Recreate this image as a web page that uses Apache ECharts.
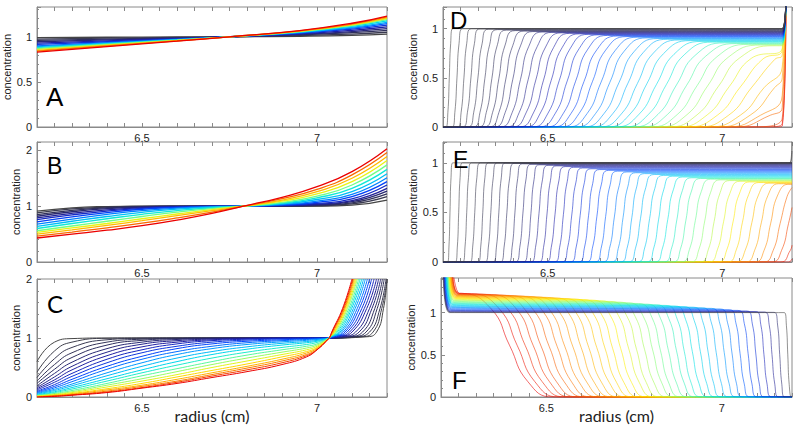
<!DOCTYPE html>
<html>
<head>
<meta charset="utf-8">
<title>Concentration profiles</title>
<script src="https://cdn.jsdelivr.net/npm/echarts@6/dist/echarts.min.js"></script>
<style>
  html, body { margin: 0; padding: 0; background: #fff; }
  #chart { width: 800px; height: 430px; }
</style>
</head>
<body>
<div id="chart"></div>
<script>
// ---- panel A: shared radii, one row of concentrations per scan
const aRadius = [6.2, 6.4, 6.6, 6.75, 6.95, 7.1, 7.2];
const aConc = [
  [0.99, 0.995, 0.998, 1, 1.005, 1.015, 1.03],
  [0.975, 0.984, 0.993, 1, 1.012, 1.03, 1.05],
  [0.96, 0.974, 0.988, 1, 1.02, 1.045, 1.07],
  [0.945, 0.965, 0.984, 1, 1.027, 1.058, 1.09],
  [0.93, 0.955, 0.98, 1, 1.033, 1.072, 1.11],
  [0.915, 0.945, 0.975, 1, 1.039, 1.085, 1.13],
  [0.90, 0.936, 0.971, 1, 1.044, 1.095, 1.145],
  [0.89, 0.929, 0.968, 1, 1.048, 1.105, 1.16],
  [0.88, 0.923, 0.965, 1, 1.053, 1.115, 1.175],
  [0.87, 0.917, 0.962, 1, 1.057, 1.125, 1.19],
  [0.86, 0.91, 0.959, 1, 1.06, 1.13, 1.2],
  [0.85, 0.904, 0.956, 1, 1.063, 1.137, 1.21],
  [0.84, 0.898, 0.954, 1, 1.066, 1.143, 1.22],
  [0.83, 0.891, 0.951, 1, 1.069, 1.15, 1.23]
];

// ---- panel B
const bRadius = [6.2, 6.3, 6.4, 6.5, 6.6, 6.7, 6.79, 6.9, 7.0, 7.1, 7.2];
const bConc = [
  [0.91, 0.97, 0.993, 1, 1, 1, 1, 1, 1.002, 1.02, 1.11],
  [0.88, 0.95, 0.985, 0.997, 1, 1, 1, 1, 1.008, 1.04, 1.17],
  [0.85, 0.925, 0.972, 0.993, 0.999, 1, 1, 1.002, 1.015, 1.06, 1.22],
  [0.82, 0.90, 0.955, 0.985, 0.997, 1, 1, 1.005, 1.025, 1.08, 1.27],
  [0.79, 0.873, 0.935, 0.975, 0.993, 0.999, 1, 1.01, 1.035, 1.10, 1.32],
  [0.76, 0.845, 0.913, 0.962, 0.987, 0.998, 1, 1.015, 1.05, 1.13, 1.38],
  [0.72, 0.81, 0.885, 0.945, 0.978, 0.995, 1, 1.022, 1.07, 1.17, 1.44],
  [0.68, 0.77, 0.852, 0.92, 0.965, 0.99, 1, 1.03, 1.09, 1.21, 1.51],
  [0.64, 0.73, 0.815, 0.89, 0.947, 0.983, 1, 1.04, 1.12, 1.26, 1.58],
  [0.60, 0.69, 0.775, 0.855, 0.922, 0.972, 1, 1.055, 1.15, 1.32, 1.66],
  [0.56, 0.645, 0.73, 0.815, 0.893, 0.957, 1, 1.07, 1.18, 1.38, 1.74],
  [0.53, 0.61, 0.69, 0.775, 0.86, 0.94, 1, 1.09, 1.22, 1.44, 1.82],
  [0.50, 0.575, 0.655, 0.74, 0.83, 0.92, 1, 1.11, 1.26, 1.50, 1.89],
  [0.465, 0.537, 0.612, 0.695, 0.79, 0.895, 1, 1.135, 1.30, 1.56, 1.96],
  [0.43, 0.50, 0.57, 0.65, 0.75, 0.87, 1, 1.16, 1.35, 1.62, 2.03]
];

// ---- panel C: left part on shared radii, then radius where each scan passes the rise levels
const cRadius = [6.2, 6.25, 6.3, 6.4, 6.5, 6.6, 6.7, 6.8, 6.9, 6.97, 7.0, 7.035];
const cConc = [
  [0.60, 0.93, 0.99, 1, 1, 1, 1, 1, 1, 1, 1, 1],
  [0.42, 0.78, 0.93, 0.995, 1, 1, 1, 1, 1, 1, 1, 1],
  [0.33, 0.65, 0.84, 0.97, 0.995, 1, 1, 1, 1, 1, 1, 1],
  [0.27, 0.55, 0.75, 0.93, 0.98, 0.995, 1, 1, 1, 1, 1, 1],
  [0.23, 0.47, 0.67, 0.88, 0.96, 0.988, 0.997, 1, 1, 1, 1, 1],
  [0.19, 0.40, 0.59, 0.82, 0.93, 0.975, 0.992, 0.998, 1, 1, 1, 1],
  [0.16, 0.34, 0.52, 0.76, 0.895, 0.955, 0.983, 0.995, 1, 1, 1, 1],
  [0.14, 0.29, 0.46, 0.70, 0.85, 0.93, 0.97, 0.99, 0.998, 1, 1, 1],
  [0.12, 0.25, 0.40, 0.64, 0.80, 0.90, 0.955, 0.98, 0.994, 0.998, 1, 1],
  [0.10, 0.21, 0.35, 0.58, 0.75, 0.86, 0.93, 0.965, 0.985, 0.994, 0.997, 1],
  [0.085, 0.18, 0.30, 0.52, 0.69, 0.82, 0.90, 0.945, 0.97, 0.985, 0.99, 1],
  [0.07, 0.155, 0.26, 0.47, 0.64, 0.77, 0.86, 0.92, 0.955, 0.975, 0.985, 1],
  [0.06, 0.13, 0.22, 0.41, 0.58, 0.72, 0.82, 0.89, 0.935, 0.96, 0.975, 1],
  [0.05, 0.11, 0.19, 0.36, 0.52, 0.66, 0.77, 0.85, 0.91, 0.94, 0.96, 1],
  [0.04, 0.09, 0.16, 0.31, 0.46, 0.60, 0.72, 0.81, 0.88, 0.92, 0.945, 1],
  [0.03, 0.075, 0.135, 0.27, 0.41, 0.54, 0.66, 0.76, 0.84, 0.89, 0.925, 1],
  [0.025, 0.06, 0.11, 0.23, 0.36, 0.48, 0.60, 0.71, 0.80, 0.86, 0.90, 1],
  [0.02, 0.05, 0.09, 0.20, 0.31, 0.43, 0.55, 0.66, 0.76, 0.83, 0.88, 1],
  [0.015, 0.04, 0.075, 0.17, 0.27, 0.38, 0.50, 0.61, 0.72, 0.80, 0.86, 1],
  [0.01, 0.03, 0.06, 0.14, 0.23, 0.34, 0.45, 0.56, 0.68, 0.77, 0.84, 1],
  [0.005, 0.025, 0.05, 0.12, 0.20, 0.30, 0.41, 0.52, 0.64, 0.745, 0.825, 1],
  [0, 0.02, 0.04, 0.10, 0.18, 0.27, 0.38, 0.49, 0.61, 0.72, 0.81, 1],
  [0, 0.015, 0.035, 0.085, 0.16, 0.25, 0.355, 0.46, 0.58, 0.70, 0.80, 1],
  [0, 0.01, 0.03, 0.075, 0.15, 0.23, 0.33, 0.43, 0.55, 0.68, 0.80, 1]
];
const cRiseLevels = [1.02, 1.1, 1.5, 2.0];
const cRiseRadius = [
  [7.14, 7.17, 7.19, 7.2], [7.125, 7.16, 7.185, 7.2], [7.11, 7.15, 7.18, 7.197],
  [7.1, 7.14, 7.172, 7.192], [7.09, 7.13, 7.165, 7.187], [7.08, 7.12, 7.157, 7.182],
  [7.07, 7.11, 7.15, 7.176], [7.062, 7.1, 7.142, 7.17], [7.056, 7.093, 7.135, 7.163],
  [7.05, 7.086, 7.128, 7.156], [7.046, 7.08, 7.121, 7.15], [7.043, 7.075, 7.115, 7.144],
  [7.041, 7.07, 7.109, 7.138], [7.04, 7.066, 7.104, 7.133], [7.039, 7.062, 7.099, 7.128],
  [7.038, 7.058, 7.095, 7.123], [7.038, 7.055, 7.091, 7.119], [7.037, 7.052, 7.087, 7.115],
  [7.037, 7.05, 7.084, 7.112], [7.037, 7.048, 7.081, 7.109], [7.037, 7.046, 7.079, 7.106],
  [7.037, 7.044, 7.077, 7.104], [7.037, 7.043, 7.075, 7.102], [7.037, 7.042, 7.073, 7.1]
];

// ---- panel D: radius where each scan crosses 0/15/50/85/100 % of its plateau
const dLevels = [0, 0.15, 0.5, 0.85, 1];
const dCross = [
  [6.208, 6.214, 6.218, 6.222, 6.228], [6.226, 6.234, 6.24, 6.246, 6.256],
  [6.241, 6.252, 6.26, 6.268, 6.281], [6.256, 6.27, 6.28, 6.29, 6.306],
  [6.271, 6.288, 6.3, 6.312, 6.331], [6.286, 6.306, 6.32, 6.334, 6.356],
  [6.302, 6.324, 6.34, 6.356, 6.382], [6.317, 6.342, 6.36, 6.378, 6.407],
  [6.332, 6.36, 6.38, 6.4, 6.432], [6.347, 6.378, 6.4, 6.422, 6.457],
  [6.364, 6.398, 6.422, 6.446, 6.484], [6.382, 6.418, 6.444, 6.47, 6.512],
  [6.399, 6.438, 6.466, 6.494, 6.539], [6.418, 6.459, 6.488, 6.517, 6.563],
  [6.436, 6.479, 6.51, 6.541, 6.591], [6.456, 6.501, 6.533, 6.565, 6.616],
  [6.474, 6.522, 6.556, 6.59, 6.644], [6.496, 6.545, 6.58, 6.615, 6.671],
  [6.515, 6.567, 6.604, 6.641, 6.7], [6.537, 6.59, 6.628, 6.666, 6.727],
  [6.557, 6.613, 6.653, 6.693, 6.757], [6.58, 6.637, 6.678, 6.719, 6.785],
  [6.601, 6.661, 6.704, 6.747, 6.816], [6.624, 6.686, 6.73, 6.774, 6.844],
  [6.647, 6.711, 6.757, 6.803, 6.877], [6.669, 6.736, 6.784, 6.832, 6.909],
  [6.692, 6.762, 6.812, 6.862, 6.942], [6.718, 6.789, 6.84, 6.891, 6.973],
  [6.742, 6.816, 6.869, 6.922, 7.007], [6.766, 6.843, 6.898, 6.953, 7.041],
  [6.791, 6.871, 6.928, 6.985, 7.076], [6.816, 6.899, 6.958, 7.017, 7.111],
  [6.843, 6.928, 6.989, 7.05, 7.148], [6.869, 6.957, 7.02, 7.083],
  [6.896, 6.987, 7.052, 7.117], [6.927, 7.019, 7.085, 7.151],
  [6.957, 7.052, 7.12], [6.982, 7.08, 7.15], [7.012, 7.11], [7.037, 7.138],
  [7.072], [7.12], [7.155]
];
const dPlateau = [1, 1, 1, 0.998, 0.995, 0.99, 0.985, 0.98, 0.975, 0.97, 0.966, 0.962, 0.957,
  0.952, 0.947, 0.942, 0.937, 0.931, 0.925, 0.919, 0.913, 0.906, 0.899, 0.892, 0.885, 0.878,
  0.87, 0.863, 0.855, 0.848, 0.84, 0.833, 0.826, 0.82, 0.815, 0.81, 0.8, 0.8, 0.8, 0.8, 0.8, 0.8, 0.8];
const dEdge = [1, 1, 1, 0.998, 0.995, 0.99, 0.985, 0.98, 0.975, 0.97, 0.966, 0.962, 0.957,
  0.952, 0.947, 0.942, 0.937, 0.931, 0.925, 0.919, 0.913, 0.906, 0.899, 0.892, 0.885, 0.878,
  0.87, 0.863, 0.855, 0.848, 0.84, 0.833, 0.826, 0.8, 0.78, 0.73, 0.61, 0.5, 0.32, 0.2, 0.09, 0.035, 0.01];
const dPellet = [7.172, 7.183];
const dPelletTop = 1.4;

// ---- panel E
const eLevels = [0, 0.15, 0.5, 0.85, 1];
const eCross = [
  [6.213, 6.217, 6.22, 6.223, 6.228], [6.235, 6.241, 6.245, 6.249, 6.255],
  [6.256, 6.263, 6.268, 6.273, 6.281], [6.277, 6.285, 6.291, 6.297, 6.307],
  [6.3, 6.308, 6.314, 6.32, 6.33], [6.32, 6.33, 6.337, 6.344, 6.355],
  [6.343, 6.353, 6.36, 6.367, 6.378], [6.364, 6.375, 6.383, 6.391, 6.404],
  [6.387, 6.398, 6.406, 6.414, 6.427], [6.407, 6.42, 6.429, 6.438, 6.452],
  [6.43, 6.443, 6.452, 6.461, 6.475], [6.451, 6.465, 6.475, 6.485, 6.501],
  [6.474, 6.488, 6.498, 6.508, 6.524], [6.495, 6.51, 6.521, 6.532, 6.55],
  [6.519, 6.534, 6.545, 6.556, 6.574], [6.54, 6.557, 6.569, 6.581, 6.6],
  [6.564, 6.581, 6.593, 6.605, 6.624], [6.588, 6.605, 6.617, 6.629, 6.648],
  [6.61, 6.628, 6.641, 6.654, 6.675], [6.635, 6.653, 6.666, 6.679, 6.7],
  [6.657, 6.677, 6.691, 6.705, 6.727], [6.682, 6.702, 6.716, 6.73, 6.752],
  [6.707, 6.727, 6.741, 6.755, 6.777], [6.73, 6.751, 6.766, 6.781, 6.805],
  [6.756, 6.777, 6.792, 6.807, 6.831], [6.782, 6.803, 6.818, 6.833, 6.857],
  [6.806, 6.828, 6.844, 6.86, 6.886], [6.832, 6.854, 6.87, 6.886, 6.912],
  [6.858, 6.88, 6.896, 6.912, 6.938], [6.882, 6.906, 6.923, 6.94, 6.967],
  [6.909, 6.933, 6.95, 6.967, 6.994], [6.936, 6.96, 6.977, 6.994, 7.021],
  [6.961, 6.986, 7.004, 7.022, 7.051], [6.988, 7.013, 7.031, 7.049, 7.078],
  [7.015, 7.04, 7.058, 7.076, 7.105], [7.039, 7.066, 7.085, 7.104, 7.134],
  [7.066, 7.093, 7.112, 7.131, 7.161], [7.093, 7.12, 7.139, 7.158, 7.188],
  [7.118, 7.146, 7.166, 7.186], [7.142, 7.17, 7.19], [7.167, 7.195], [7.19]
];
const ePlateau = [1, 1, 1, 1, 1, 1, 0.998, 0.995, 0.99, 0.985, 0.98, 0.975, 0.969, 0.962, 0.955,
  0.948, 0.94, 0.932, 0.924, 0.916, 0.908, 0.9, 0.891, 0.882, 0.873, 0.865, 0.857, 0.849, 0.842,
  0.835, 0.828, 0.821, 0.814, 0.807, 0.801, 0.795, 0.789, 0.783, 0.778, 0.775, 0.775, 0.775];
const eEnd = [1.25, 1.12, 1, 1, 1, 1, 0.998, 0.995, 0.99, 0.985, 0.98, 0.975, 0.969, 0.962, 0.955,
  0.948, 0.94, 0.932, 0.924, 0.916, 0.908, 0.9, 0.891, 0.882, 0.873, 0.865, 0.857, 0.849, 0.842,
  0.835, 0.828, 0.821, 0.814, 0.807, 0.801, 0.795, 0.789, 0.783, 0.75, 0.55, 0.17, 0.03];

// ---- panel F: meniscus spike, plateau, then boundary (100/85/50/15/0 % of plateau)
const fLevels = [1, 0.85, 0.5, 0.15, 0];
const fSpike = [6.206, 6.207, 6.208, 6.208, 6.209, 6.21, 6.211, 6.212, 6.212, 6.213, 6.214, 6.215,
  6.216, 6.216, 6.217, 6.218, 6.219, 6.22, 6.22, 6.221, 6.222, 6.223, 6.224, 6.224, 6.225, 6.226,
  6.227, 6.228, 6.228, 6.229, 6.23, 6.231, 6.232, 6.232, 6.233, 6.234];
const fKnee = [6.224, 6.225, 6.226, 6.226, 6.227, 6.228, 6.229, 6.23, 6.23, 6.231, 6.232, 6.233,
  6.234, 6.234, 6.235, 6.236, 6.237, 6.238, 6.238, 6.239, 6.24, 6.241, 6.242, 6.242, 6.243, 6.244,
  6.245, 6.246, 6.246, 6.247, 6.248, 6.249, 6.25, 6.25, 6.251, 6.252];
const fSpikeTop = 1.5;
const fLeft = [1, 1.005, 1.01, 1.018, 1.026, 1.035, 1.045, 1.055, 1.063, 1.071, 1.079, 1.087, 1.095,
  1.103, 1.111, 1.119, 1.127, 1.135, 1.143, 1.151, 1.159, 1.166, 1.172, 1.178, 1.184, 1.19, 1.195,
  1.2, 1.205, 1.209, 1.213, 1.217, 1.221, 1.224, 1.227, 1.23];
const fPlateau = [1, 1.003, 1.006, 1.012, 1.019, 1.026, 1.034, 1.043, 1.05, 1.057, 1.064, 1.071,
  1.078, 1.085, 1.093, 1.1, 1.108, 1.116, 1.124, 1.132, 1.14, 1.148, 1.154, 1.161, 1.167, 1.174,
  1.18, 1.186, 1.192, 1.197, 1.203, 1.208, 1.214, 1.219, 1.224, 1.229];
const fCross = [
  [7.178, 7.184, 7.188, 7.192, 7.198], [7.149, 7.159, 7.165, 7.171, 7.179],
  [7.122, 7.135, 7.143, 7.151, 7.162], [7.097, 7.111, 7.12, 7.129, 7.142],
  [7.071, 7.087, 7.097, 7.107, 7.121], [7.046, 7.064, 7.075, 7.086, 7.101],
  [7.021, 7.04, 7.052, 7.064, 7.081], [6.995, 7.016, 7.029, 7.042, 7.06],
  [6.971, 6.993, 7.007, 7.021, 7.041], [6.945, 6.969, 6.984, 6.999, 7.02],
  [6.919, 6.945, 6.961, 6.977, 6.999], [6.892, 6.921, 6.939, 6.957, 6.982],
  [6.867, 6.897, 6.916, 6.935, 6.962], [6.841, 6.873, 6.893, 6.913, 6.941],
  [6.814, 6.849, 6.871, 6.893, 6.924], [6.788, 6.825, 6.848, 6.871, 6.903],
  [6.763, 6.801, 6.825, 6.849, 6.883], [6.735, 6.777, 6.803, 6.829, 6.865],
  [6.71, 6.753, 6.78, 6.807, 6.845], [6.684, 6.729, 6.757, 6.785, 6.824],
  [6.657, 6.705, 6.735, 6.765, 6.807], [6.631, 6.681, 6.712, 6.743, 6.786],
  [6.606, 6.657, 6.689, 6.721, 6.766], [6.581, 6.634, 6.667, 6.7, 6.746],
  [6.553, 6.609, 6.644, 6.679, 6.728], [6.527, 6.585, 6.621, 6.657, 6.707],
  [6.503, 6.562, 6.599, 6.636, 6.688], [6.475, 6.537, 6.576, 6.615, 6.67],
  [6.449, 6.513, 6.553, 6.593, 6.649], [6.424, 6.49, 6.531, 6.572, 6.629],
  [6.396, 6.465, 6.508, 6.551, 6.611], [6.371, 6.441, 6.485, 6.529, 6.591],
  [6.343, 6.417, 6.463, 6.509, 6.573], [6.315, 6.392, 6.44, 6.488, 6.555],
  [6.287, 6.367, 6.417, 6.467, 6.537], [6.26, 6.343, 6.395, 6.447, 6.52]
];

const radiusMin = 6.2;
const radiusMax = 7.2;

// scan colour ramp: early scans grey/black, then blue, cyan, yellow, red
const ramp = [
  [0.0, [70, 70, 70]], [0.18, [45, 45, 95]], [0.32, [30, 30, 170]], [0.44, [0, 70, 255]],
  [0.54, [0, 170, 255]], [0.63, [0, 228, 228]], [0.72, [120, 255, 130]], [0.8, [255, 240, 0]],
  [0.9, [255, 145, 0]], [1.0, [235, 0, 0]]
];
function scanColor(frac, gamma) {
  const f = Math.pow(frac, gamma);
  for (let s = 1; s < ramp.length; s++) {
    if (f <= ramp[s][0]) {
      const a = ramp[s - 1], b = ramp[s];
      const t = (f - a[0]) / (b[0] - a[0]);
      const c = a[1].map((v, j) => Math.round(v + (b[1][j] - v) * t));
      return 'rgb(' + c.join(',') + ')';
    }
  }
  return 'rgb(235,0,0)';
}

function pairs(xs, ys) {
  return xs.map((x, j) => [x, ys[j]]);
}

const curvesA = aConc.map(row => pairs(aRadius, row));
const curvesB = bConc.map(row => pairs(bRadius, row));
const curvesC = cConc.map((row, k) => pairs(cRadius, row).concat(pairs(cRiseRadius[k], cRiseLevels)));
const curvesD = dCross.map((cr, i) => {
  const pts = [];
  if (cr[0] > radiusMin) pts.push([radiusMin, 0]);
  cr.forEach((x, j) => pts.push([x, dLevels[j] * dPlateau[i]]));
  pts.push([dPellet[0], dEdge[i]], [dPellet[1], dPelletTop]);
  return pts;
});
const curvesE = eCross.map((cr, i) => {
  const pts = [];
  if (cr[0] > radiusMin) pts.push([radiusMin, 0]);
  cr.forEach((x, j) => pts.push([x, eLevels[j] * ePlateau[i]]));
  if (cr.length === eLevels.length) pts.push([7.194, ePlateau[i]]);
  pts.push([radiusMax, eEnd[i]]);
  return pts;
});
const curvesF = fCross.map((cr, i) => {
  const pts = [[fSpike[i], fSpikeTop], [fKnee[i], fLeft[i]]];
  cr.forEach((x, j) => pts.push([x, fLevels[j] * fPlateau[i]]));
  if (cr[cr.length - 1] < radiusMax) pts.push([radiusMax, 0]);
  return pts;
});

// layout of the six panels
const panels = [
  { curves: curvesA, grid: { left: 37, top: 7, width: 350, height: 120 }, yMax: 1.33, yStep: 0.5,
    letter: 'A', lx: 46, ly: 97, lsize: 26, lfont: 'Liberation Sans', gamma: 1, width: 1.3, opacity: 1 },
  { curves: curvesB, grid: { left: 37, top: 142, width: 350, height: 120 }, yMax: 2.15, yStep: 1,
    letter: 'B', lx: 47, ly: 166, lsize: 23, lfont: 'Liberation Sans', gamma: 1, width: 1.3, opacity: 1 },
  { curves: curvesC, grid: { left: 37, top: 279, width: 350, height: 118 }, yMax: 2, yStep: 1,
    letter: 'C', lx: 47, ly: 303, lsize: 24, lfont: 'Lato', gamma: 1, width: 1, opacity: 1, xName: true },
  { curves: curvesD, grid: { left: 443, top: 7, width: 349, height: 120 }, yMax: 1.22, yStep: 0.5,
    letter: 'D', lx: 450, ly: 20, lsize: 24, lfont: 'Liberation Sans', gamma: 1, width: 0.9, opacity: 0.65,
    reverse: true },
  { curves: curvesE, grid: { left: 443, top: 142, width: 349, height: 120 }, yMax: 1.21, yStep: 0.5,
    letter: 'E', lx: 453, ly: 160, lsize: 23, lfont: 'Liberation Sans', gamma: 1, width: 0.9, opacity: 0.65,
    reverse: true },
  { curves: curvesF, grid: { left: 441, top: 278, width: 351, height: 119 }, yMax: 1.41, yStep: 0.5,
    letter: 'F', lx: 452, ly: 380, lsize: 24, lfont: 'Liberation Sans', gamma: 0.44, width: 0.9, opacity: 0.65,
    xName: true, reverse: true }
];

const frame = '#8a8a8a';
const labelColor = '#222';

function radiusLabel(v) {
  if (Math.abs(v - 6.5) < 1e-6) return '6.5';
  if (Math.abs(v - 7) < 1e-6) return '7';
  return '';
}

const grids = [], xAxes = [], yAxes = [], series = [], texts = [];
panels.forEach((p, k) => {
  grids.push(Object.assign({ show: true, borderColor: frame, borderWidth: 1, backgroundColor: '#fff' }, p.grid));
  xAxes.push({
    gridIndex: k, type: 'value', min: radiusMin, max: radiusMax, interval: 0.1,
    axisLine: { lineStyle: { color: frame } },
    axisTick: { inside: true, length: 4, lineStyle: { color: frame } },
    minorTick: { show: true, splitNumber: 2, length: 4, lineStyle: { color: frame } },
    splitLine: { show: false },
    axisLabel: { formatter: radiusLabel, color: labelColor, fontSize: 11, fontFamily: 'Liberation Sans', margin: 5 },
    name: p.xName ? 'radius (cm)' : '', nameLocation: 'middle', nameGap: 10, nameMoveOverlap: false,
    nameTextStyle: { fontFamily: 'Lato', fontSize: 16, color: labelColor }
  });
  xAxes.push({
    gridIndex: k, type: 'value', position: 'top', min: radiusMin, max: radiusMax, interval: 0.1,
    axisLine: { show: false },
    axisTick: { inside: true, length: 4, lineStyle: { color: frame } },
    minorTick: { show: true, splitNumber: 2, length: 4, lineStyle: { color: frame } },
    splitLine: { show: false }, axisLabel: { show: false }
  });
  yAxes.push({
    gridIndex: k, type: 'value', min: 0, max: p.yMax, interval: p.yStep,
    axisLine: { lineStyle: { color: frame } },
    axisTick: { inside: true, length: 4, lineStyle: { color: frame } },
    minorTick: { show: true, splitNumber: 5, length: 2, lineStyle: { color: frame } },
    splitLine: { show: false },
    axisLabel: { color: labelColor, fontSize: 11, fontFamily: 'Liberation Sans', margin: 5,
      showMaxLabel: Math.abs(p.yMax / p.yStep - Math.round(p.yMax / p.yStep)) < 1e-6 },
    name: 'concentration', nameLocation: 'middle', nameGap: 16,
    nameTextStyle: { fontFamily: 'Liberation Sans', fontSize: 11, color: labelColor }
  });
  const n = p.curves.length;
  const order = p.curves.map((c, i) => i);
  if (p.reverse) order.reverse();
  order.forEach(i => {
    series.push({
      type: 'line', xAxisIndex: 2 * k, yAxisIndex: k, data: p.curves[i],
      symbol: 'none', smooth: 0.5, silent: true, clip: true,
      lineStyle: { color: scanColor(i / (n - 1), p.gamma), width: p.width, opacity: p.opacity }
    });
  });
  texts.push({
    type: 'text', x: p.lx, y: p.ly, z: 100,
    style: { text: p.letter, fill: '#000', font: p.lsize + 'px "' + p.lfont + '"', textVerticalAlign: 'middle' }
  });
});

const chart = echarts.init(document.getElementById('chart'), null, { renderer: 'svg' });
chart.setOption({
  animation: false,
  backgroundColor: '#fff',
  grid: grids,
  xAxis: xAxes,
  yAxis: yAxes,
  series: series,
  graphic: texts
});
</script>
</body>
</html>
